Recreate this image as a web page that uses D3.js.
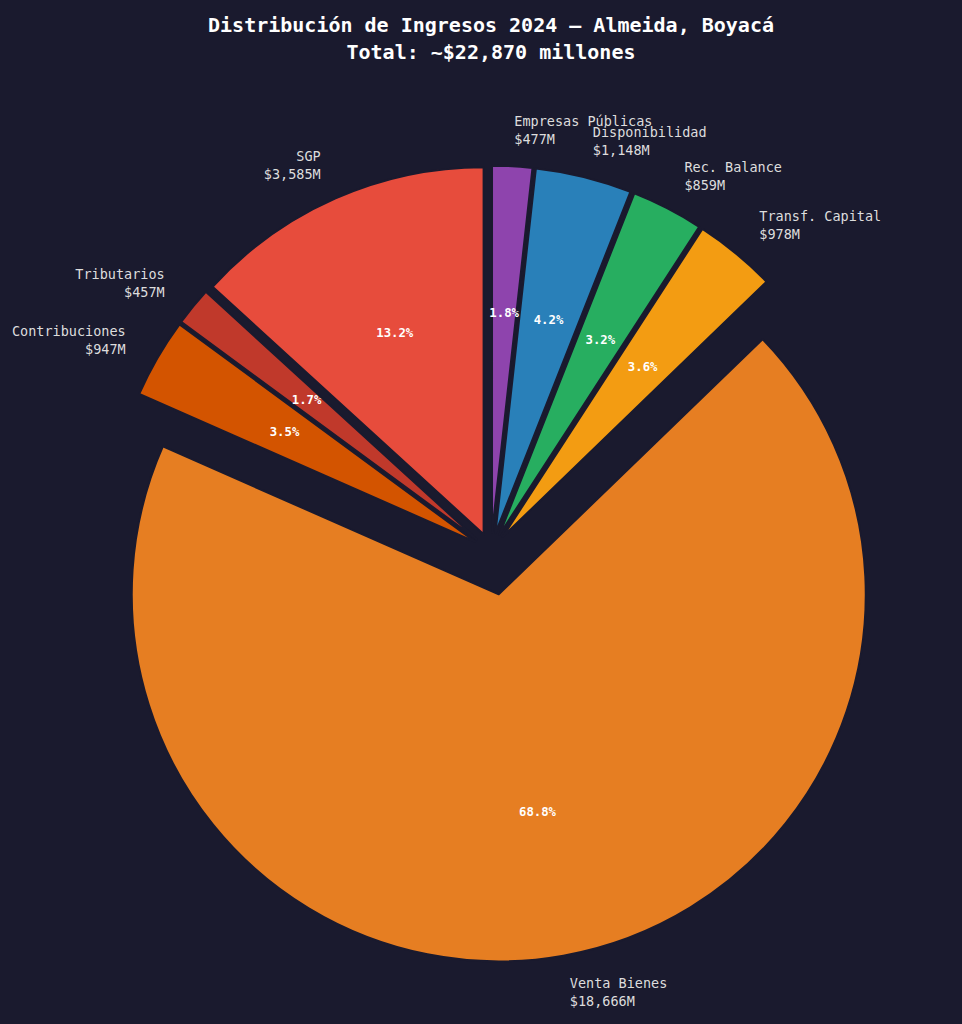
<!DOCTYPE html>
<html>
<head>
<meta charset="utf-8">
<script src="https://cdn.jsdelivr.net/npm/d3@7"></script>
<style>
  html, body { margin: 0; padding: 0; background: #1a1a2e; }
  svg { display: block; }
</style>
</head>
<body>
<div id="chart"></div>
<script>
// ---- Data ----
const categories = ["SGP", "Tributarios", "Contribuciones", "Venta Bienes",
                    "Transf. Capital", "Rec. Balance", "Disponibilidad", "Empresas Públicas"];
const values = [3585, 457, 947, 18666, 978, 859, 1148, 477];
const explode = [0.05, 0.05, 0.05, 0.12, 0.05, 0.05, 0.05, 0.05];
const colors = ["#e74c3c", "#c0392b", "#d35400", "#e67e22",
                "#f39c12", "#27ae60", "#2980b9", "#8e44ad"];
const titleLines = ["Distribución de Ingresos 2024 — Almeida, Boyacá",
                    "Total: ~$22,870 millones"];

// ---- Layout ----
const W = 962, H = 1024;
const cx = 491, cy = 551, R = 367;
const bg = "#1a1a2e";
const mono = "'DejaVu Sans Mono', 'Liberation Mono', monospace";

const svg = d3.select("#chart").append("svg")
  .attr("width", W).attr("height", H);
svg.append("rect").attr("width", W).attr("height", H).attr("fill", bg);

// title
svg.append("g").selectAll("text").data(titleLines).join("text")
  .attr("x", cx)
  .attr("y", (d, i) => 31.5 + i * 27.5)
  .attr("text-anchor", "middle")
  .attr("fill", "#ffffff")
  .attr("font-family", mono)
  .attr("font-weight", "bold")
  .attr("font-size", 20)
  .text(d => d);

const data = categories.map((c, i) => ({ name: c, value: values[i], explode: explode[i], color: colors[i] }));
const total = d3.sum(values);

// counter-clockwise from 12 o'clock (matplotlib startangle=90)
const pie = d3.pie().sort(null).value(d => d.value).startAngle(0).endAngle(-2 * Math.PI);
const arcs = pie(data);
const arc = d3.arc().innerRadius(0).outerRadius(R);

const g = svg.append("g").attr("transform", `translate(${cx},${cy})`);

function dir(a) { return [Math.sin(a), -Math.cos(a)]; }

const slices = g.selectAll("g.slice").data(arcs).join("g")
  .attr("class", "slice")
  .attr("transform", d => {
    const m = (d.startAngle + d.endAngle) / 2;
    const [dx, dy] = dir(m);
    const off = d.data.explode * R;
    return `translate(${dx * off},${dy * off})`;
  });

slices.append("path")
  .attr("d", arc)
  .attr("fill", d => d.data.color)
  .attr("stroke", bg)
  .attr("stroke-width", 2)
  .attr("stroke-linejoin", "round");

// percentage labels
slices.append("text")
  .attr("x", d => dir((d.startAngle + d.endAngle) / 2)[0] * R * 0.6)
  .attr("y", d => dir((d.startAngle + d.endAngle) / 2)[1] * R * 0.6 + 4.6)
  .attr("text-anchor", "middle")
  .attr("fill", "#ffffff")
  .attr("font-family", mono)
  .attr("font-weight", "bold")
  .attr("font-size", 12.3)
  .text(d => (d.data.value / total * 100).toFixed(1) + "%");

// outer labels
const fmt = d3.format(",");
slices.each(function(d) {
  const m = (d.startAngle + d.endAngle) / 2;
  const [dx, dy] = dir(m);
  const lx = dx * R * 1.1, ly = dy * R * 1.1;
  const anchor = dx > 0 ? "start" : "end";
  const t = d3.select(this).append("text")
    .attr("text-anchor", anchor)
    .attr("fill", "#dddddd")
    .attr("font-family", mono)
    .attr("font-size", 13.5);
  t.append("tspan").attr("x", lx).attr("y", ly - 9 + 5).text(d.data.name);
  t.append("tspan").attr("x", lx).attr("y", ly + 9 + 5).text("$" + fmt(d.data.value) + "M");
});
</script>
</body>
</html>
